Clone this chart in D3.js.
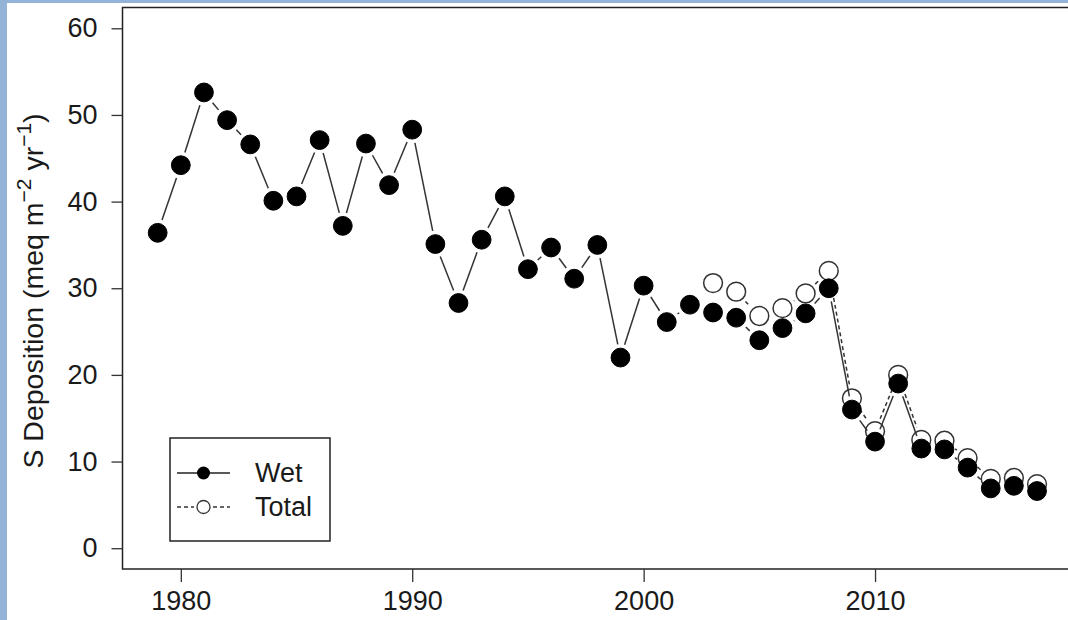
<!DOCTYPE html>
<html><head><meta charset="utf-8">
<script src="https://cdn.jsdelivr.net/npm/d3@7/dist/d3.min.js"></script>
<style>
html,body{margin:0;padding:0;background:#fff;}
svg{display:block;}
text{font-family:"Liberation Sans",Arial,Helvetica,sans-serif;fill:#1a1a1a;}
</style></head>
<body><svg id="chart" width="1068" height="620"></svg>
<script>
const years = [1979,1980,1981,1982,1983,1984,1985,1986,1987,1988,1989,1990,1991,1992,1993,1994,1995,1996,1997,1998,1999,2000,2001,2002,2003,2004,2005,2006,2007,2008,2009,2010,2011,2012,2013,2014,2015,2016,2017];
const wet = [36.4,44.2,52.6,49.4,46.6,40.1,40.6,47.1,37.2,46.7,41.9,48.3,35.1,28.3,35.6,40.6,32.2,34.7,31.1,35.0,22.0,30.3,26.1,28.1,27.2,26.6,24.0,25.4,27.1,30.0,16.0,12.3,19.0,11.5,11.4,9.3,6.9,7.2,6.6];
const totalYears = [2003,2004,2005,2006,2007,2008,2009,2010,2011,2012,2013,2014,2015,2016,2017];
const total = [30.6,29.6,26.8,27.7,29.4,32.0,17.3,13.5,20.0,12.5,12.4,10.4,8.0,8.1,7.4];
const xTicks = [1980,1990,2000,2010];
const yTicks = [0,10,20,30,40,50,60];
const legendLabels = ["Wet","Total"];

const svg = d3.select("#chart");
svg.append("rect").attr("x",0).attr("y",0).attr("width",1068).attr("height",620).attr("fill","#fff");
svg.append("rect").attr("x",0).attr("y",0).attr("width",7).attr("height",620).attr("fill","#95b3d7");
svg.append("rect").attr("x",0).attr("y",0).attr("width",1068).attr("height",3).attr("fill","#95b3d7");

const x = d3.scaleLinear().domain([1977.48, 2018.52]).range([122.5, 1072.2]);
const y = d3.scaleLinear().domain([-2.4, 62.4]).range([569, 7.5]);

svg.append("rect").attr("x",x(1977.48)).attr("y",y(62.4)).attr("width",1000).attr("height",y(-2.4)-y(62.4))
  .attr("fill","none").attr("stroke","#222").attr("stroke-width",1.5);

const yAxis = d3.axisLeft(y).tickValues(yTicks).tickSize(11).tickPadding(14).tickFormat(d3.format("d"));
const gy = svg.append("g").attr("transform",`translate(${x(1977.48)},0)`).call(yAxis);
gy.select(".domain").remove();
gy.selectAll(".tick line").attr("stroke","#333").attr("stroke-width",1.3);
gy.selectAll(".tick text").style("font-size","27px").attr("fill","#1a1a1a");

const xAxis = d3.axisBottom(x).tickValues(xTicks).tickSize(13).tickPadding(9).tickFormat(d3.format("d"));
const gx = svg.append("g").attr("transform",`translate(0,${y(-2.4)})`).call(xAxis);
gx.select(".domain").remove();
gx.selectAll(".tick line").attr("stroke","#333").attr("stroke-width",1.3);
gx.selectAll(".tick text").style("font-size","27px").attr("fill","#1a1a1a");

const title = svg.append("text").attr("transform","translate(43,291) rotate(-90)")
  .attr("text-anchor","middle").style("font-size","28.5px");
title.append("tspan").text("S Deposition (meq m");
title.append("tspan").attr("dy",-12).style("font-size","21px").text("\u22122");
title.append("tspan").attr("dy",12).text(" yr");
title.append("tspan").attr("dy",-12).style("font-size","21px").text("\u22121");
title.append("tspan").attr("dy",12).text(")");

const R = 9.4, GAP = R + 4;
function gappedSegments(xs, ys){
  const segs = [];
  for(let i=0;i<xs.length-1;i++){
    const x0=x(xs[i]), y0=y(ys[i]), x1=x(xs[i+1]), y1=y(ys[i+1]);
    const dx=x1-x0, dy=y1-y0, L=Math.hypot(dx,dy);
    if(L<=2*GAP) continue;
    const ux=dx/L, uy=dy/L;
    segs.push([x0+ux*GAP, y0+uy*GAP, x1-ux*GAP, y1-uy*GAP]);
  }
  return segs;
}

svg.append("g").selectAll("line").data(gappedSegments(totalYears,total)).join("line")
  .attr("x1",d=>d[0]).attr("y1",d=>d[1]).attr("x2",d=>d[2]).attr("y2",d=>d[3])
  .attr("stroke","#333").attr("stroke-width",1.5).attr("stroke-dasharray","4,3");
svg.append("g").selectAll("circle").data(totalYears.map((t,i)=>[t,total[i]])).join("circle")
  .attr("cx",d=>x(d[0])).attr("cy",d=>y(d[1])).attr("r",R)
  .attr("fill","#fff").attr("stroke","#333").attr("stroke-width",1.5);

svg.append("g").selectAll("line").data(gappedSegments(years,wet)).join("line")
  .attr("x1",d=>d[0]).attr("y1",d=>d[1]).attr("x2",d=>d[2]).attr("y2",d=>d[3])
  .attr("stroke","#333").attr("stroke-width",1.5);
svg.append("g").selectAll("circle").data(years.map((t,i)=>[t,wet[i]])).join("circle")
  .attr("cx",d=>x(d[0])).attr("cy",d=>y(d[1])).attr("r",R)
  .attr("fill","#000").attr("stroke","#000").attr("stroke-width",1);

const lg = svg.append("g");
lg.append("rect").attr("x",170).attr("y",438).attr("width",160).attr("height",103)
  .attr("fill","#fff").attr("stroke","#222").attr("stroke-width",1.5);
lg.append("line").attr("x1",177).attr("x2",230).attr("y1",473).attr("y2",473).attr("stroke","#222").attr("stroke-width",1.5);
lg.append("circle").attr("cx",203.5).attr("cy",473).attr("r",6.5).attr("fill","#000");
lg.append("text").attr("x",255).attr("y",482).style("font-size","27px").text(legendLabels[0]);
lg.append("line").attr("x1",177).attr("x2",194).attr("y1",507).attr("y2",507).attr("stroke","#333").attr("stroke-width",1.3).attr("stroke-dasharray","4,3");
lg.append("line").attr("x1",213).attr("x2",230).attr("y1",507).attr("y2",507).attr("stroke","#333").attr("stroke-width",1.3).attr("stroke-dasharray","4,3");
lg.append("circle").attr("cx",203.5).attr("cy",507).attr("r",6.5).attr("fill","#fff").attr("stroke","#333").attr("stroke-width",1.3);
lg.append("text").attr("x",255).attr("y",516).style("font-size","27px").text(legendLabels[1]);
</script>
</body></html>
